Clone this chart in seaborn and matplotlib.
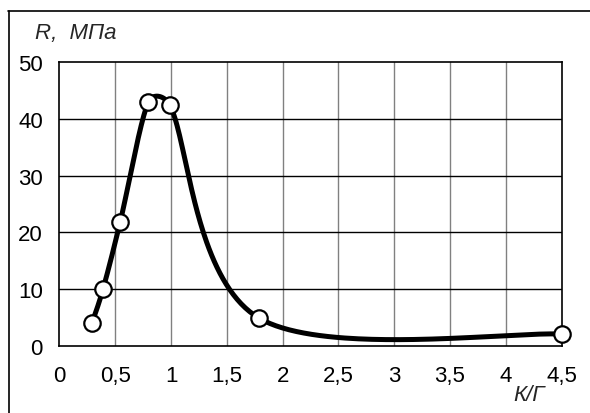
import numpy as np
import pandas as pd
import matplotlib
matplotlib.use("Agg")
import matplotlib.pyplot as plt
import seaborn as sns
from matplotlib.lines import Line2D

# data
k_g = [0.29, 0.39, 0.545, 0.795, 0.99, 1.79, 4.5]
r_mpa = [4.0, 10.0, 21.9, 42.9, 42.4, 4.9, 2.1]
x_ticks = [0, 0.5, 1, 1.5, 2, 2.5, 3, 3.5, 4, 4.5]
x_tick_labels = ["0", "0,5", "1", "1,5", "2", "2,5", "3", "3,5", "4", "4,5"]
y_ticks = [0, 10, 20, 30, 40, 50]
y_tick_labels = ["0", "10", "20", "30", "40", "50"]


def smooth(xs, ys, sx, sy, n=80):
    """Excel-style smoothed line (cubic Bezier, tension 1/6, capped arms)."""
    P = np.column_stack([np.asarray(xs) * sx, np.asarray(ys) * sy])
    m = len(P)
    out = []
    for i in range(m - 1):
        p0 = P[max(i - 1, 0)]
        p1, p2 = P[i], P[i + 1]
        p3 = P[min(i + 2, m - 1)]
        d12 = np.linalg.norm(p2 - p1)
        d02 = np.linalg.norm(p2 - p0)
        d13 = np.linalg.norm(p3 - p1)
        f1 = min(1 / 6, 0.5 * d12 / d02) if d02 > 0 else 0
        f2 = min(1 / 6, 0.5 * d12 / d13) if d13 > 0 else 0
        c1 = p1 + (p2 - p0) * f1
        c2 = p2 - (p3 - p1) * f2
        t = np.linspace(0, 1, n)[:, None]
        b = ((1 - t) ** 3) * p1 + 3 * ((1 - t) ** 2) * t * c1 \
            + 3 * (1 - t) * t ** 2 * c2 + t ** 3 * p2
        out.append(b if i == 0 else b[1:])
    C = np.vstack(out)
    return C[:, 0] / sx, C[:, 1] / sy


sns.set_theme(style="white")
plt.rcParams["font.family"] = ["Liberation Sans", "DejaVu Sans"]

fig = plt.figure(figsize=(5.9, 4.14), dpi=100)
ax = fig.add_axes([0.1008, 0.1618, 0.8509, 0.686])

sx_, sy_ = 502.0 / 4.5, 284.0 / 50.0
cx, cy = smooth(k_g, r_mpa, sx_, sy_)
curve = pd.DataFrame({"x": cx, "y": cy})
pts = pd.DataFrame({"x": k_g, "y": r_mpa})

sns.lineplot(data=curve, x="x", y="y", sort=False, estimator=None, ax=ax,
             color="black", linewidth=3.6, zorder=3)
sns.scatterplot(data=pts, x="x", y="y", ax=ax, s=140, color="white",
                edgecolor="black", linewidth=1.6, zorder=4, clip_on=False)

ax.set_xlim(0, 4.5)
ax.set_ylim(0, 50)
ax.set_xticks(x_ticks)
ax.set_xticklabels(x_tick_labels)
ax.set_yticks(y_ticks)
ax.set_yticklabels(y_tick_labels)
ax.tick_params(axis="x", length=0, pad=14, labelsize=16, colors="black")
ax.tick_params(axis="y", length=0, pad=12, labelsize=16, colors="black")
ax.set_xlabel("")
ax.set_ylabel("")
for x in x_ticks[1:-1]:
    ax.axvline(x, color="#808080", linewidth=1.0, zorder=1)
for y in y_ticks[1:-1]:
    ax.axhline(y, color="black", linewidth=1.0, zorder=1)
for s in ax.spines.values():
    s.set_color("black")
    s.set_linewidth(1.2)

fig.text(35 / 590, 1 - 33 / 414, "R,  МПа", fontsize=16, style="italic",
         ha="left", va="center")
fig.text(529 / 590, 1 - 396 / 414, "К/Г", fontsize=16, style="italic",
         ha="center", va="center")

fig.add_artist(Line2D([8 / 590, 1.0], [1 - 11.5 / 414] * 2, color="black",
                      linewidth=1.2, transform=fig.transFigure))
fig.add_artist(Line2D([8.5 / 590] * 2, [0, 1 - 11.5 / 414], color="black",
                      linewidth=1.2, transform=fig.transFigure))

fig.savefig("out.png", dpi=100)
